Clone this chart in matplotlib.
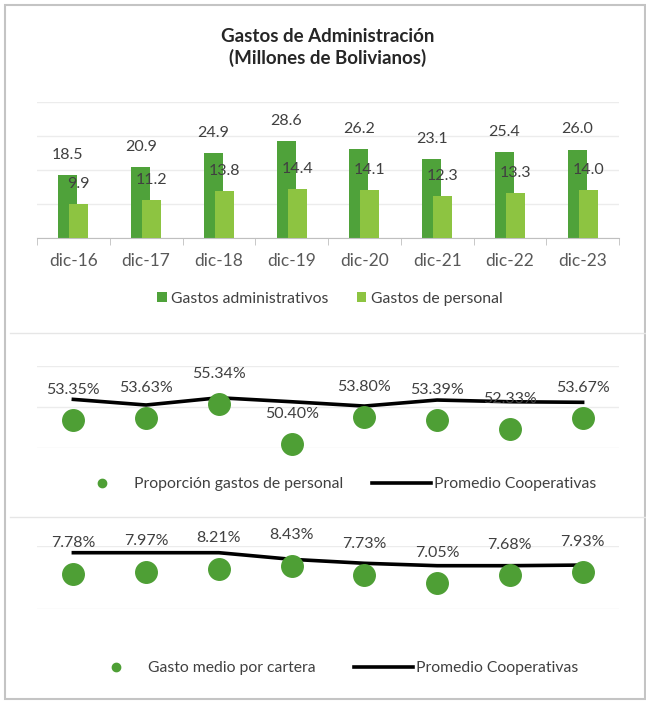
import matplotlib.pyplot as plt
from matplotlib.lines import Line2D
from matplotlib.patches import Rectangle
import numpy as np

plt.rcParams['font.family'] = ['Lato', 'DejaVu Sans']

# Data
categories = ['dic-16', 'dic-17', 'dic-18', 'dic-19', 'dic-20', 'dic-21', 'dic-22', 'dic-23']
gastos_admin = [18.5, 20.9, 24.9, 28.6, 26.2, 23.1, 25.4, 26.0]
gastos_personal = [9.9, 11.2, 13.8, 14.4, 14.1, 12.3, 13.3, 14.0]
prop_personal = [53.35, 53.63, 55.34, 50.40, 53.80, 53.39, 52.33, 53.67]
prom_prop = [55.91, 55.22, 56.11, 55.62, 55.09, 55.83, 55.62, 55.55]
gasto_cartera = [7.78, 7.97, 8.21, 8.43, 7.73, 7.05, 7.68, 7.93]
prom_cartera = [9.45, 9.45, 9.45, 8.93, 8.62, 8.43, 8.43, 8.48]

W, H = 646, 701
fig = plt.figure(figsize=(W / 100, H / 100), dpi=100)

dark_green = '#4FA23A'
light_green = '#8DC441'
dot_green = '#4E9F35'
grid_col = '#ECECEC'
txt_col = '#404040'


def px_axes(x0, y_top, x1, y_bot):
    # axes placed with pixel coordinates measured from top-left
    return fig.add_axes([x0 / W, (H - y_bot) / H, (x1 - x0) / W, (y_bot - y_top) / H])


x = np.arange(len(categories))

# ---- Top: bar chart ----
ax1 = px_axes(37, 102, 619, 238)
bw = 0.26
off = 0.075
ax1.bar(x - off, gastos_admin, bw, color=dark_green, zorder=2, label='Gastos administrativos')
ax1.bar(x + off, gastos_personal, bw, color=light_green, zorder=3, label='Gastos de personal')
for xi, v in zip(x, gastos_admin):
    ax1.annotate(f'{v:.1f}', (xi - off, v), xytext=(0, 14.5), textcoords='offset points',
                 ha='center', va='center', fontsize=11.5, color=txt_col)
for xi, v in zip(x, gastos_personal):
    ax1.annotate(f'{v:.1f}', (xi + off, v), xytext=(0, 14.5), textcoords='offset points',
                 ha='center', va='center', fontsize=11.5, color=txt_col, zorder=5)
ax1.set_xlim(-0.5, 7.5)
ax1.set_ylim(0, 40)
ax1.set_yticks([0, 10, 20, 30, 40])
ax1.yaxis.grid(True, color=grid_col, lw=1)
ax1.set_axisbelow(True)
ax1.tick_params(axis='y', left=False, labelleft=False)
ax1.set_xticks(x)
ax1.set_xticklabels(categories, fontsize=12.5, color='#595959')
ax1.tick_params(axis='x', which='major', length=0, pad=11)
ax1.set_xticks(np.arange(-0.5, 8, 1), minor=True)
ax1.tick_params(axis='x', which='minor', length=5, color='#BFBFBF')
for s in ['top', 'right', 'left']:
    ax1.spines[s].set_visible(False)
ax1.spines['bottom'].set_color('#BFBFBF')

fig.text(328 / W, 1 - 36 / H, 'Gastos de Administración', ha='center', va='center',
         fontsize=13.5, fontweight='bold', color='#262626')
fig.text(328 / W, 1 - 58 / H, '(Millones de Bolivianos)', ha='center', va='center',
         fontsize=13.5, fontweight='bold', color='#262626')

h1, l1 = ax1.get_legend_handles_labels()
fig.legend(h1, l1, loc='center', bbox_to_anchor=(330 / W, 1 - 299 / H), ncol=2,
           frameon=False, fontsize=11.3, handlelength=0.6, handleheight=0.6,
           handletextpad=0.3, columnspacing=1.8, labelcolor=txt_col)

# ---- Middle: proportion of personnel expenses ----
ax2 = px_axes(37, 366, 619, 447.6)
ax2.plot(x, prom_prop, color='black', lw=2.6, zorder=2, label='Promedio Cooperativas')
ax2.plot(x, prop_personal, 'o', color=dot_green, ms=15.5, zorder=3, clip_on=False,
         label='Proporción gastos de personal')
for xi, v in zip(x, prop_personal):
    ax2.annotate(f'{v:.2f}%', (xi, v), xytext=(0, 21.5), textcoords='offset points',
                 ha='center', va='center', fontsize=11.5, color=txt_col, zorder=4)
ax2.set_xlim(-0.5, 7.5)
ax2.set_ylim(50, 60)
ax2.set_yticks([50, 55, 60])
ax2.yaxis.grid(True, color=grid_col, lw=1)
ax2.set_axisbelow(True)
ax2.tick_params(left=False, bottom=False, labelleft=False, labelbottom=False)
for s in ax2.spines.values():
    s.set_visible(False)

leg_dot = Line2D([], [], marker='o', ls='none', color=dot_green, ms=6)
leg_line = Line2D([], [], color='black', lw=2.6)
fig.legend([leg_dot, leg_line], ['Proporción gastos de personal', 'Promedio Cooperativas'],
           loc='center', bbox_to_anchor=(334 / W, 1 - 484 / H), ncol=2, frameon=False,
           fontsize=11.3, handlelength=3.8, handletextpad=0.15, columnspacing=1.8,
           labelcolor=txt_col)

# ---- Bottom: average expense per portfolio ----
ax3 = px_axes(37, 545.7, 619, 609.4)
ax3.plot(x, prom_cartera, color='black', lw=2.6, zorder=2)
ax3.plot(x, gasto_cartera, 'o', color=dot_green, ms=15.5, zorder=3, clip_on=False)
for xi, v in zip(x, gasto_cartera):
    ax3.annotate(f'{v:.2f}%', (xi, v), xytext=(0, 22), textcoords='offset points',
                 ha='center', va='center', fontsize=11.5, color=txt_col, zorder=4)
ax3.set_xlim(-0.5, 7.5)
ax3.set_ylim(5, 10)
ax3.set_yticks([5, 10])
ax3.yaxis.grid(True, color=grid_col, lw=1)
ax3.set_axisbelow(True)
ax3.tick_params(left=False, bottom=False, labelleft=False, labelbottom=False)
for s in ax3.spines.values():
    s.set_visible(False)

fig.legend([leg_dot, leg_line], ['Gasto medio por cartera', 'Promedio Cooperativas'],
           loc='center', bbox_to_anchor=(332 / W, 1 - 668 / H), ncol=2, frameon=False,
           fontsize=11.3, handlelength=3.8, handletextpad=0.15, columnspacing=2.4,
           labelcolor=txt_col)

# separators and outer border
for yy in [333, 517]:
    fig.add_artist(Line2D([10 / W, 645 / W], [1 - yy / H, 1 - yy / H], color='#E6E6E6', lw=1))
fig.add_artist(Rectangle((5 / W, 1 - 699 / H), 640 / W, 694 / H, fill=False,
                         edgecolor='#C4C4C4', lw=1.5, transform=fig.transFigure))

fig.savefig('out.png', dpi=100)
